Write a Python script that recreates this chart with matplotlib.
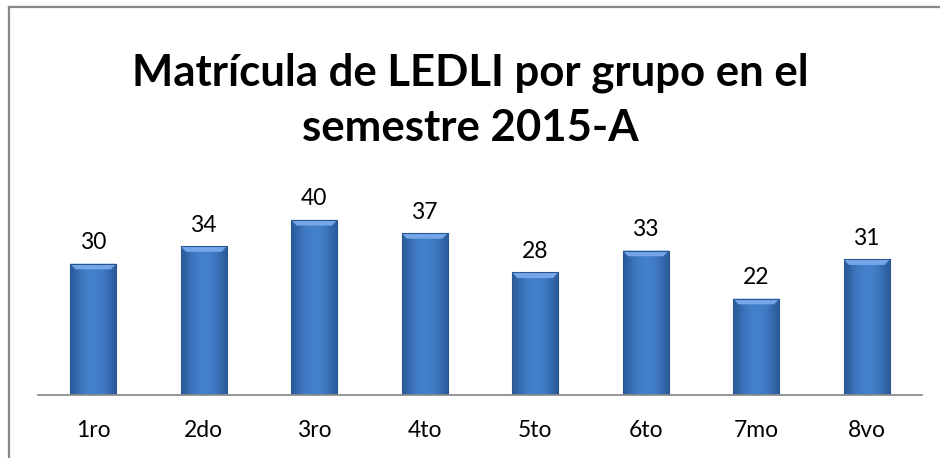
import matplotlib.pyplot as plt
from matplotlib.patches import Rectangle, Polygon
from matplotlib.lines import Line2D
from matplotlib.colors import LinearSegmentedColormap
import numpy as np

grupos = ['1ro', '2do', '3ro', '4to', '5to', '6to', '7mo', '8vo']
alumnos = [30, 34, 40, 37, 28, 33, 22, 31]
titulo = 'Matrícula de LEDLI por grupo en el\nsemestre 2015-A'

plt.rcParams['font.family'] = ['Lato', 'DejaVu Sans']

W, H = 940, 458
fig = plt.figure(figsize=(W / 100, H / 100), dpi=100)
ax = fig.add_axes([38 / W, 63 / H, 884 / W, 197 / H])

x = np.arange(len(grupos))
bars = ax.bar(x, alumnos, width=0.42, color='#3d76bd', edgecolor='none', zorder=2)
ax.set_xlim(-0.5, len(grupos) - 0.5)
ax.set_ylim(0, 45)

# gradient + bevel on each bar
grad = np.array([[0.0, 0.55, 0.8, 0.9, 0.8, 0.55, 0.0]])
cmap = LinearSegmentedColormap.from_list('b', ['#2b5c9c', '#4786d2'])
for b in bars:
    x0, w, h = b.get_x(), b.get_width(), b.get_height()
    im = ax.imshow(grad, cmap=cmap, vmin=0, vmax=1, aspect='auto', interpolation='bicubic',
                   extent=(x0, x0 + w, 0, h), zorder=3)
    im.set_clip_path(b)
    bev = 1.3
    ax.add_patch(Polygon([(x0, h), (x0 + w, h), (x0 + w - 0.05, h - bev), (x0 + 0.05, h - bev)],
                         closed=True, facecolor='#74a6e8', edgecolor='none', zorder=4))
    ax.add_patch(Rectangle((x0, 0), w, h, fill=False, edgecolor='#2a5690', lw=0.8, zorder=5))
    ax.text(x0 + w / 2, h + 2.4, str(int(h)), ha='center', va='bottom', fontsize=16.5, color='black')

ax.set_xticks(x)
ax.set_xticklabels(grupos, fontsize=16.5)
ax.tick_params(axis='x', length=0, pad=18)
ax.set_yticks([])
for s in ['top', 'right', 'left']:
    ax.spines[s].set_visible(False)
ax.spines['bottom'].set_color('#8c8c8c')
ax.spines['bottom'].set_linewidth(1.3)
ax.spines['bottom'].set_zorder(6)

fig.text(0.5, 1 - 100 / H, titulo, ha='center', va='center', fontsize=31.5,
         fontweight='bold', linespacing=1.45)

# chart border (top and left visible)
ty = 1 - 6.5 / H
lx = 8.5 / W
fig.add_artist(Line2D([lx, lx], [0, ty], transform=fig.transFigure, color='#888888', lw=1.6))
fig.add_artist(Line2D([lx, 1], [ty, ty], transform=fig.transFigure, color='#888888', lw=1.6))

fig.savefig('out.png', dpi=100)
